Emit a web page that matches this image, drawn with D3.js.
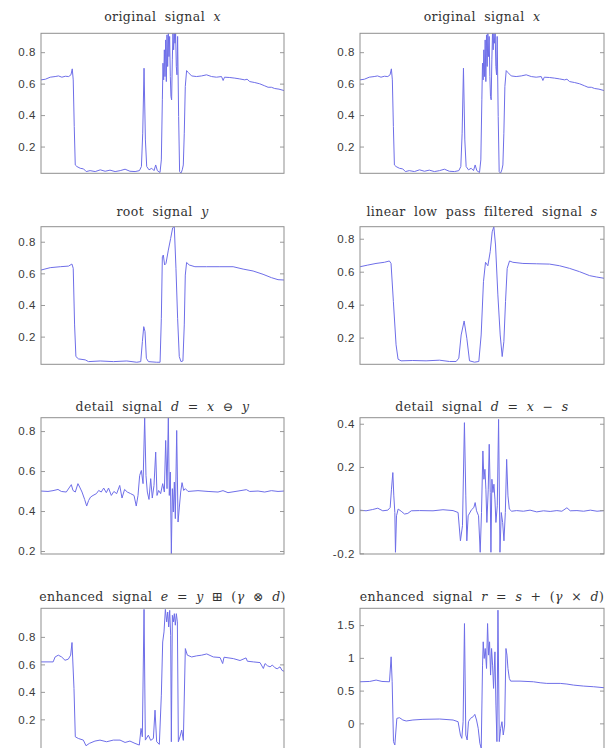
<!DOCTYPE html>
<html>
<head>
<meta charset="utf-8">
<script src="https://cdn.jsdelivr.net/npm/d3@7"></script>
<style>
  html, body { margin: 0; padding: 0; background: #fff; }
  svg { display: block; }
  .tick text { font-family: "Liberation Sans", Arial, sans-serif; font-size: 11.5px; letter-spacing: 0.6px; fill: #3a3a3a; }
  .tick line { stroke: #9a9a9a; }
  .ttl { font-family: "DejaVu Serif", "Liberation Serif", serif; font-size: 12.5px; letter-spacing: 0.4px; word-spacing: 4px; fill: #333; }
</style>
</head>
<body>
<svg id="fig" width="613" height="748"></svg>
<script>
// Sample positions run 0..500 along each trace; values are [sample, amplitude].
const originalX = [
  [0,0.624],[9,0.628],[19,0.641],[29,0.645],[36,0.649],[43,0.641],[50,0.647],[57,0.645],[61.6,0.656],[64.3,0.694],
  [66.3,0.624],[68.4,0.327],[70.5,0.083],[73.9,0.073],[80.7,0.062],[87.6,0.058],[93,0.041],[101,0.047],[111.5,0.041],
  [122,0.052],[132,0.043],[142,0.05],[152.5,0.041],[163,0.047],[173,0.056],[183,0.043],[193.6,0.041],[202.5,0.047],
  [206.6,0.073],[209.3,0.285],[212,0.698],[214.8,0.242],[217.5,0.073],[222.3,0.052],[227.8,0.062],[232.6,0.047],
  [236,0.083],[239.4,0.047],[244.9,0.035],[247.6,0.115],[249.7,0.497],[251,0.73],[252.4,0.624],[253.8,0.815],
  [255.1,0.645],[256.5,0.878],[257.9,0.613],[259.2,0.91],[260.6,0.709],[262,0.92],[263.3,0.772],[264.7,0.9],
  [266.1,0.645],[267.4,0.518],[268.8,0.497],[270.2,0.751],[271.5,0.92],[272.9,0.815],[274.3,0.92],[275.7,0.857],
  [277,0.92],[278.4,0.709],[279.8,0.656],[281.1,0.9],[283.2,0.391],[285.2,0.041],[288,0.03],[290.7,0.052],
  [292.8,0.083],[294.8,0.285],[296.9,0.582],[299.6,0.683],[303,0.671],[309.9,0.649],[320,0.645],[330.4,0.649],
  [340.6,0.656],[351,0.645],[361,0.641],[371.4,0.645],[374.8,0.62],[377.6,0.641],[388.5,0.639],[398.8,0.635],
  [409,0.63],[419.3,0.624],[424,0.628],[429.6,0.613],[439.8,0.607],[450,0.599],[460.3,0.586],[467.2,0.577],
  [474,0.577],[480.9,0.569],[489.7,0.565],[500,0.556]
];

const rootY = [
  [0,0.621],[19,0.636],[39.7,0.642],[56.8,0.646],[63.6,0.659],[66.3,0.632],[69.1,0.274],[71.8,0.074],[77.3,0.059],
  [91,0.053],[97.8,0.042],[121.8,0.046],[149,0.042],[176.5,0.046],[197,0.038],[205.2,0.042],[208.6,0.168],
  [211.4,0.263],[214,0.232],[216.8,0.063],[221,0.042],[238,0.038],[245,0.038],[247.6,0.316],[249.7,0.705],
  [251.7,0.716],[254.4,0.653],[257.2,0.663],[262,0.747],[266.8,0.821],[270.9,0.888],[274.3,0.895],[277.7,0.632],
  [281.1,0.316],[284.5,0.074],[288,0.042],[292,0.046],[294.8,0.274],[296.9,0.589],[299.6,0.669],[305,0.653],
  [316.7,0.642],[340.6,0.642],[368,0.642],[395.3,0.642],[415.9,0.627],[436.4,0.615],[456.9,0.594],[474,0.573],
  [487.7,0.56],[500,0.558]
];

const lowpassS = [
  [0,0.63],[15.7,0.64],[32.8,0.65],[50,0.657],[60.2,0.665],[63.6,0.65],[68.4,0.418],[73.9,0.156],[78,0.069],
  [84.1,0.059],[108,0.061],[135.4,0.059],[162.8,0.063],[183.3,0.055],[197,0.055],[202.5,0.075],[207.3,0.216],
  [213.4,0.301],[218.9,0.196],[224.4,0.059],[234.6,0.051],[243.5,0.055],[248.3,0.216],[253,0.539],[257.2,0.657],
  [262,0.636],[266.8,0.721],[270.9,0.842],[274.3,0.873],[277.7,0.762],[282.5,0.459],[287.3,0.216],[291.4,0.085],
  [294.8,0.176],[298.2,0.418],[301.6,0.62],[306.4,0.665],[313.3,0.657],[333.8,0.65],[361.2,0.648],[388.5,0.646],
  [409,0.636],[429.6,0.62],[450,0.6],[470.6,0.576],[484.3,0.568],[500,0.56]
];

const detailMorph = [
  [0,0.5],[14.4,0.498],[24.7,0.502],[35,0.508],[41.8,0.498],[52,0.495],[59,0.52],[62.4,0.532],[65.8,0.503],
  [70.6,0.495],[76,0.537],[79.6,0.52],[84.4,0.495],[89.8,0.458],[94,0.425],[98,0.453],[102,0.47],[107,0.478],
  [114,0.487],[118.7,0.503],[124,0.495],[129,0.515],[134.4,0.492],[139,0.515],[144.7,0.478],[150,0.498],
  [155.7,0.487],[162,0.528],[166.7,0.465],[172,0.508],[177.6,0.495],[184.5,0.487],[191.4,0.478],[196,0.425],
  [199.6,0.478],[203,0.578],[206.5,0.603],[210,0.537],[213.3,0.867],[216,0.578],[218.8,0.495],[222.2,0.458],
  [225.7,0.562],[229,0.465],[232.5,0.528],[236,0.695],[238.7,0.478],[242,0.503],[246.2,0.487],[250.4,0.537],
  [253.8,0.495],[256.5,0.753],[259.3,0.512],[262,0.867],[264,0.478],[266.1,0.595],[268.2,0.187],[270.3,0.512],
  [272.3,0.395],[274.4,0.545],[276.4,0.362],[279.2,0.803],[282,0.345],[284.7,0.42],[287.4,0.495],[290.2,0.542],
  [293.6,0.503],[297,0.512],[302.5,0.498],[323,0.502],[343.7,0.498],[364.2,0.495],[374.5,0.502],[384.8,0.492],
  [405.4,0.5],[422.6,0.507],[429.4,0.498],[446.6,0.5],[460.3,0.495],[474,0.502],[487.7,0.498],[500,0.5]
];

const detailLinear = [
  [0,0],[12.4,-0.003],[26,0.003],[36.4,0.009],[46.7,-0.003],[57,0],[61.8,0.012],[64.5,0.097],[67.3,0.174],
  [69.3,0.066],[71.4,-0.011],[72.7,-0.195],[74.8,-0.026],[78.2,0.005],[84.4,-0.005],[91.3,-0.018],[98,-0.015],
  [105,-0.003],[122,-0.002],[149.6,-0.003],[170,0.002],[190.7,-0.002],[201,-0.011],[205.8,-0.142],[210,-0.072],
  [214,0.405],[216.8,0.066],[218.9,-0.142],[221.6,-0.026],[228.5,0.002],[233.3,0.012],[236,0.035],[238.8,-0.003],
  [242.9,-0.026],[246.3,-0.195],[249,-0.011],[251.8,0.274],[253.9,0.143],[256,0.189],[258,0.097],[260,-0.057],
  [262.8,0.097],[264.8,0.305],[266.9,0.082],[268.3,-0.195],[270.3,0.143],[272.4,0.082],[274.4,0.12],[276.5,0.051],
  [278.5,-0.057],[281.3,0.02],[284,0.42],[286.8,-0.195],[289.5,-0.011],[292.3,-0.057],[295,-0.142],[297.8,-0.011],
  [300.5,0.235],[303.2,0.066],[306,0.005],[310.8,-0.005],[321,-0.002],[334.8,-0.005],[348.5,0],[362.2,-0.008],
  [376,-0.003],[389.7,-0.006],[403.4,-0.002],[413.7,-0.005],[424,0.011],[430.8,-0.003],[444.6,-0.002],
  [458.3,-0.005],[472,0],[485.7,-0.005],[500,-0.002]
];

const enhancedMorph = [
  [0,0.618],[25,0.618],[29,0.654],[35.6,0.667],[42.5,0.654],[49.4,0.63],[56.2,0.638],[61,0.667],[63.8,0.759],
  [67.9,0.424],[70.6,0.073],[76.8,0.061],[87.1,0.049],[92.6,0.008],[99.5,0.025],[111,0.042],[121.4,0.049],
  [135,0.037],[148.8,0.049],[162.6,0.049],[173,0.032],[183,0.042],[193.4,0.025],[202.3,0.013],[205.8,0.134],
  [208.5,0.073],[212,1.0],[214.7,0.049],[220.9,0.085],[225.7,0.047],[231.2,0.061],[234.6,0.267],[238,0.037],
  [243.5,0.018],[247.6,0.376],[250.4,0.763],[253.1,0.836],[255.9,1.0],[258.6,0.909],[260.7,0.981],[262.7,0.872],
  [264.8,0.993],[266.8,0.812],[268.2,0.037],[270.3,0.957],[272.3,0.909],[274.4,0.969],[276.4,0.885],[278.5,0.969],
  [280.6,0.909],[282.6,0.037],[286,0.073],[289.5,0.122],[292.9,0.047],[297,0.715],[301.1,0.667],[310,0.654],
  [320.3,0.662],[330.6,0.667],[341,0.676],[354.6,0.654],[368.4,0.65],[373.8,0.606],[376.6,0.652],[395.8,0.642],
  [409.5,0.628],[421.9,0.647],[424.6,0.623],[437,0.618],[450.7,0.613],[457.5,0.57],[461,0.606],[466,0.59],
  [471.3,0.582],[476,0.595],[481.6,0.575],[486,0.568],[491.8,0.582],[496,0.556],[500,0.55]
];

const enhancedLinear = [
  [0,0.635],[20,0.64],[33,0.661],[45,0.64],[60.4,0.635],[63.8,1.016],[65.9,0.635],[68.6,-0.279],[71.4,-0.33],
  [75.5,0.076],[81,0.086],[87.8,0.051],[94.7,0.036],[108.4,0.051],[129,0.061],[163.3,0.066],[190.7,0.051],
  [201,0.025],[205.8,-0.178],[208.6,-0.229],[211.3,0.025],[214.1,1.524],[216.8,-0.178],[219.6,-0.254],[222.3,0.025],
  [226.4,0.076],[231.9,0.102],[235.3,0.137],[238.8,0.051],[242.2,-0.076],[245.6,-0.305],[248.4,-0.381],
  [251.1,0.889],[252.5,1.245],[254.5,0.991],[256.6,1.143],[259.3,0.838],[261.4,1.524],[263.5,1.042],[265.5,1.245],
  [267.6,0.737],[269.6,1.143],[271.7,0.889],[273.7,0.534],[276.5,1.092],[278.5,0.279],[280.6,-0.279],[282.7,1.728],
  [285.4,-0.279],[288.2,-0.076],[290.9,0.025],[293.6,-0.178],[296.4,-0.025],[299.1,1.143],[301.2,1.042],
  [303.2,0.838],[306,0.686],[308.7,0.645],[327.9,0.645],[355.4,0.635],[369.1,0.62],[382.8,0.61],[410.3,0.61],
  [424,0.6],[437.7,0.584],[458.3,0.569],[478.9,0.559],[500,0.544]
];

// Tick values for the vertical axes
const ticksUnit = [0.2, 0.4, 0.6, 0.8];
const ticksDetailLinear = [-0.2, 0, 0.2, 0.4];
const ticksEnhancedLinear = [0, 0.5, 1, 1.5];

// Title segments: [text, italic]
const titleOriginal = [["original signal ", 0], ["x", 1]];
const titleRoot = [["root signal ", 0], ["y", 1]];
const titleLowpass = [["linear low pass filtered signal ", 0], ["s", 1]];
const titleDetailMorph = [["detail signal ", 0], ["d", 1], [" = ", 0], ["x", 1], [" \u2296 ", 0], ["y", 1]];
const titleDetailLinear = [["detail signal ", 0], ["d", 1], [" = ", 0], ["x", 1], [" \u2212 ", 0], ["s", 1]];
const titleEnhMorph = [["enhanced signal ", 0], ["e", 1], [" = ", 0], ["y", 1], [" \u229E (", 0], ["\u03B3", 1], [" \u2297 ", 0], ["d", 1], [")", 0]];
const titleEnhLinear = [["enhanced signal ", 0], ["r", 1], [" = ", 0], ["s", 1], [" + (", 0], ["\u03B3", 1], [" \u00D7 ", 0], ["d", 1], [")", 0]];

const panels = [
  { row: 0, col: 0, title: titleOriginal,     data: originalX,      yDomain: [0.03, 0.92],    ticks: ticksUnit },
  { row: 0, col: 1, title: titleOriginal,     data: originalX,      yDomain: [0.03, 0.92],    ticks: ticksUnit },
  { row: 1, col: 0, title: titleRoot,         data: rootY,          yDomain: [0.025, 0.895],  ticks: ticksUnit },
  { row: 1, col: 1, title: titleLowpass,      data: lowpassS,       yDomain: [0.038, 0.873],  ticks: ticksUnit },
  { row: 2, col: 0, title: titleDetailMorph,  data: detailMorph,    yDomain: [0.185, 0.867],  ticks: ticksUnit },
  { row: 2, col: 1, title: titleDetailLinear, data: detailLinear,   yDomain: [-0.203, 0.428], ticks: ticksDetailLinear },
  { row: 3, col: 0, title: titleEnhMorph,     data: enhancedMorph,  yDomain: [-0.023, 1.008], ticks: ticksUnit },
  { row: 3, col: 1, title: titleEnhLinear,    data: enhancedLinear, yDomain: [-0.407, 1.757], ticks: ticksEnhancedLinear }
];

// Grid geometry
const cols = [{ x0: 41, x1: 284 }, { x0: 360, x1: 604 }];
const rows = [
  { y0: 33.3,  y1: 173.3, ty: 15.5 },
  { y0: 226.7, y1: 364.3, ty: 210.5 },
  { y0: 417.7, y1: 554,   ty: 405.5 },
  { y0: 608.3, y1: 750,   ty: 595.5 }
];

const svg = d3.select("#fig");
svg.append("rect").attr("width", 613).attr("height", 748).attr("fill", "#fff");
const defs = svg.append("defs");

panels.forEach((p, i) => {
  const c = cols[p.col], r = rows[p.row];
  const x = d3.scaleLinear().domain([0, 500]).range([c.x0, c.x1]);
  const y = d3.scaleLinear().domain(p.yDomain).range([r.y1, r.y0]);
  const g = svg.append("g");

  defs.append("clipPath").attr("id", "clip" + i)
    .append("rect").attr("x", c.x0).attr("y", r.y0)
    .attr("width", c.x1 - c.x0).attr("height", r.y1 - r.y0);

  const line = d3.line().x(d => x(d[0])).y(d => y(d[1]));
  g.append("path").datum(p.data)
    .attr("clip-path", "url(#clip" + i + ")")
    .attr("d", line)
    .attr("fill", "none")
    .attr("stroke", "#6e6ee8")
    .attr("stroke-width", 1)
    .attr("stroke-linejoin", "round");

  const fmt = v => String(v);
  const left = g.append("g").attr("transform", `translate(${c.x0},0)`)
    .call(d3.axisLeft(y).tickValues(p.ticks).tickFormat(fmt).tickSizeInner(-4).tickSizeOuter(0).tickPadding(5));
  left.select(".domain").remove();
  const right = g.append("g").attr("transform", `translate(${c.x1},0)`)
    .call(d3.axisRight(y).tickValues(p.ticks).tickFormat("").tickSizeInner(-4).tickSizeOuter(0));
  right.select(".domain").remove();
  g.selectAll(".tick line").attr("stroke", "#9a9a9a");

  g.append("rect")
    .attr("x", c.x0).attr("y", r.y0)
    .attr("width", c.x1 - c.x0).attr("height", r.y1 - r.y0)
    .attr("fill", "none").attr("stroke", "#8f8f8f").attr("stroke-width", 1);

  const t = g.append("text").attr("class", "ttl")
    .attr("x", (c.x0 + c.x1) / 2).attr("y", r.ty)
    .attr("text-anchor", "middle").attr("dominant-baseline", "central");
  p.title.forEach(([s, it]) => {
    t.append("tspan").text(s).attr("font-style", it ? "italic" : "normal");
  });
});
</script>
</body>
</html>
